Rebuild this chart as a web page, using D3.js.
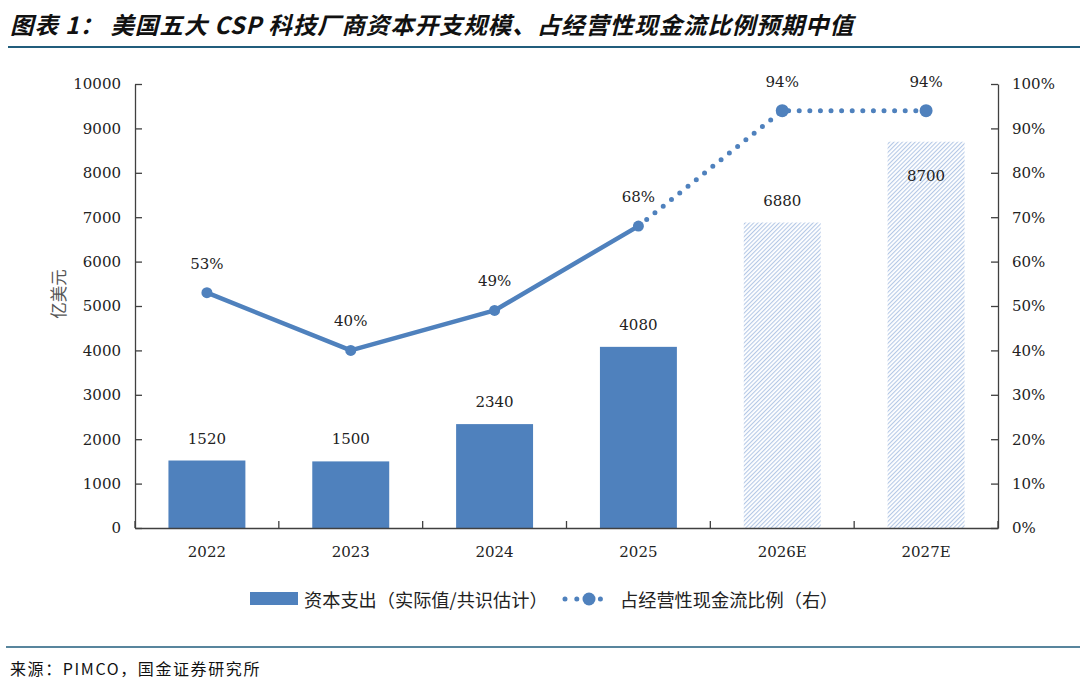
<!DOCTYPE html>
<html>
<head>
<meta charset="utf-8">
<script src="https://cdn.jsdelivr.net/npm/d3@7"></script>
<style>
  body { margin: 0; background: #fff; }
  svg { display: block; }
</style>
</head>
<body>
<svg id="chart" width="1080" height="688"></svg>
<script>
// data
var years = ['2022', '2023', '2024', '2025', '2026E', '2027E']
var capex = [1520, 1500, 2340, 4080, 6880, 8700]
var ratio = [53, 40, 49, 68, 94, 94]
var isEstimate = [false, false, false, false, true, true]
var leftTicks = [0, 1000, 2000, 3000, 4000, 5000, 6000, 7000, 8000, 9000, 10000]
var rightTicks = [0, 10, 20, 30, 40, 50, 60, 70, 80, 90, 100]

var titleText = '图表 1： 美国五大 CSP 科技厂商资本开支规模、占经营性现金流比例预期中值'
var sourceText = '来源：PIMCO，国金证券研究所'
var legendBar = '资本支出（实际值/共识估计）'
var legendLine = '占经营性现金流比例（右）'

var blue = '#4f81bd'
var axisCol = '#404040'
var numFont = '"DejaVu Serif", "Liberation Serif", serif'
var cjkFont = '"Noto Sans CJK SC", sans-serif'

var svg = d3.select('#chart')

var conf = { left: 135, right: 998, top: 84, bottom: 528 }

var x = d3.scaleBand().domain(years).range([conf.left, conf.right]).paddingInner(0.465).paddingOuter(0.2325)
var yL = d3.scaleLinear().domain([0, 10000]).range([conf.bottom, conf.top])
var yR = d3.scaleLinear().domain([0, 100]).range([conf.bottom, conf.top])
var step = x.step()

// hatch pattern for estimates
var defs = svg.append('defs')
defs.append('pattern')
    .attr('id', 'hatch')
    .attr('patternUnits', 'userSpaceOnUse')
    .attr('width', 3).attr('height', 3)
    .attr('patternTransform', 'rotate(45)')
    .append('rect')
    .attr('x', 0).attr('y', 0).attr('width', 1.1).attr('height', 3)
    .attr('fill', '#b4c8e6')

// title
svg.append('text')
    .attr('x', 10).attr('y', 34)
    .attr('font-family', cjkFont)
    .attr('font-size', 23.5)
    .attr('font-weight', 'bold')
    .attr('font-style', 'italic')
    .attr('letter-spacing', 0.9)
    .attr('fill', '#111')
    .text(titleText)
svg.append('line')
    .attr('x1', 8).attr('x2', 1080).attr('y1', 47).attr('y2', 47)
    .attr('stroke', '#215d7c').attr('stroke-width', 2)

// bars
svg.selectAll('.bar').data(years).enter().append('rect')
    .attr('class', 'bar')
    .attr('x', d => x(d))
    .attr('y', (d, i) => yL(capex[i]))
    .attr('width', x.bandwidth())
    .attr('height', (d, i) => yL(0) - yL(capex[i]))
    .attr('fill', (d, i) => isEstimate[i] ? 'url(#hatch)' : blue)

// bar labels (last one sits inside the bar, under the line marker)
svg.selectAll('.blab').data(years).enter().append('text')
    .attr('x', d => x(d) + x.bandwidth() / 2)
    .attr('y', (d, i) => {
        var top = yL(capex[i])
        var pt = yR(ratio[i])
        return (top - 30 < pt + 10 && top - 30 > pt - 40) ? top + 39 : top - 17
    })
    .attr('text-anchor', 'middle')
    .attr('font-family', numFont)
    .attr('font-size', 15)
    .attr('fill', '#222')
    .text((d, i) => capex[i])

// axes
var axL = svg.append('g').attr('transform', 'translate(' + conf.left + ',0)')
    .call(d3.axisLeft(yL).tickValues(leftTicks).tickSizeInner(-7).tickSizeOuter(0).tickPadding(14)
        .tickFormat(d3.format('d')))
var axR = svg.append('g').attr('transform', 'translate(' + conf.right + ',0)')
    .call(d3.axisRight(yR).tickValues(rightTicks).tickSizeInner(-7).tickSizeOuter(0).tickPadding(14)
        .tickFormat(d => d + '%'))
var axB = svg.append('g').attr('transform', 'translate(0,' + conf.bottom + ')')
    .call(d3.axisBottom(x).tickSize(0).tickPadding(18))

axB.selectAll('.tick line').remove()
// category boundary ticks (inward)
var bounds = d3.range(years.length + 1).map(i => conf.left + i * step)
axB.selectAll('.btick').data(bounds).enter().append('line')
    .attr('x1', d => d).attr('x2', d => d)
    .attr('y1', 0).attr('y2', -7)
    .attr('stroke', axisCol).attr('stroke-width', 1.3)

;[axL, axR, axB].forEach(a => {
    a.select('.domain').attr('stroke', axisCol).attr('stroke-width', 1.3)
    a.selectAll('.tick line').attr('stroke', axisCol).attr('stroke-width', 1.3)
    a.selectAll('text')
        .attr('font-family', numFont)
        .attr('font-size', 15)
        .attr('fill', '#222')
})

// y label
svg.append('text')
    .attr('transform', 'translate(58,' + (yL(5000) - 12) + ') rotate(-90)')
    .attr('text-anchor', 'middle')
    .attr('dominant-baseline', 'central')
    .attr('font-family', cjkFont)
    .attr('font-size', 16.5)
    .attr('fill', '#555')
    .text('亿美元')

// ratio line: solid for actuals, dotted towards estimates
var pts = years.map((d, i) => ({ x: x(d) + x.bandwidth() / 2, y: yR(ratio[i]), est: isEstimate[i], v: ratio[i] }))
var lastActual = isEstimate.indexOf(true) - 1
var line = d3.line().x(d => d.x).y(d => d.y)

svg.append('path')
    .attr('d', line(pts.slice(0, lastActual + 1)))
    .attr('fill', 'none')
    .attr('stroke', blue)
    .attr('stroke-width', 4.5)
    .attr('stroke-linejoin', 'round')

svg.append('path')
    .attr('d', line(pts.slice(lastActual)))
    .attr('fill', 'none')
    .attr('stroke', blue)
    .attr('stroke-width', 5)
    .attr('stroke-linecap', 'round')
    .attr('stroke-dasharray', '0 10.6')

svg.selectAll('.pt').data(pts).enter().append('circle')
    .attr('cx', d => d.x).attr('cy', d => d.y)
    .attr('r', d => d.est ? 6.5 : 5.5)
    .attr('fill', blue)

svg.selectAll('.plab').data(pts).enter().append('text')
    .attr('x', d => d.x)
    .attr('y', d => d.y - 24)
    .attr('text-anchor', 'middle')
    .attr('font-family', numFont)
    .attr('font-size', 15)
    .attr('fill', '#222')
    .text(d => d.v + '%')

// legend
var lg = svg.append('g')
lg.append('rect').attr('x', 250).attr('y', 592).attr('width', 48).attr('height', 13).attr('fill', blue)
lg.append('text').attr('x', 304).attr('y', 599)
    .attr('dominant-baseline', 'central')
    .attr('font-family', cjkFont).attr('font-size', 18.2).attr('fill', '#222')
    .text(legendBar)
lg.append('line').attr('x1', 565).attr('x2', 612).attr('y1', 599).attr('y2', 599)
    .attr('stroke', blue).attr('stroke-width', 5).attr('stroke-linecap', 'round')
    .attr('stroke-dasharray', '0 11.8')
lg.append('circle').attr('cx', 589).attr('cy', 599).attr('r', 6.5).attr('fill', blue)
lg.append('text').attr('x', 620).attr('y', 599)
    .attr('dominant-baseline', 'central')
    .attr('font-family', cjkFont).attr('font-size', 18.2).attr('fill', '#222')
    .text(legendLine)

// footer
svg.append('line')
    .attr('x1', 6).attr('x2', 1080).attr('y1', 647).attr('y2', 647)
    .attr('stroke', '#215d7c').attr('stroke-width', 1.5)
svg.append('text')
    .attr('x', 10).attr('y', 675)
    .attr('font-family', cjkFont)
    .attr('font-size', 16)
    .attr('letter-spacing', 1.6)
    .attr('fill', '#111')
    .text(sourceText)
</script>
</body>
</html>
